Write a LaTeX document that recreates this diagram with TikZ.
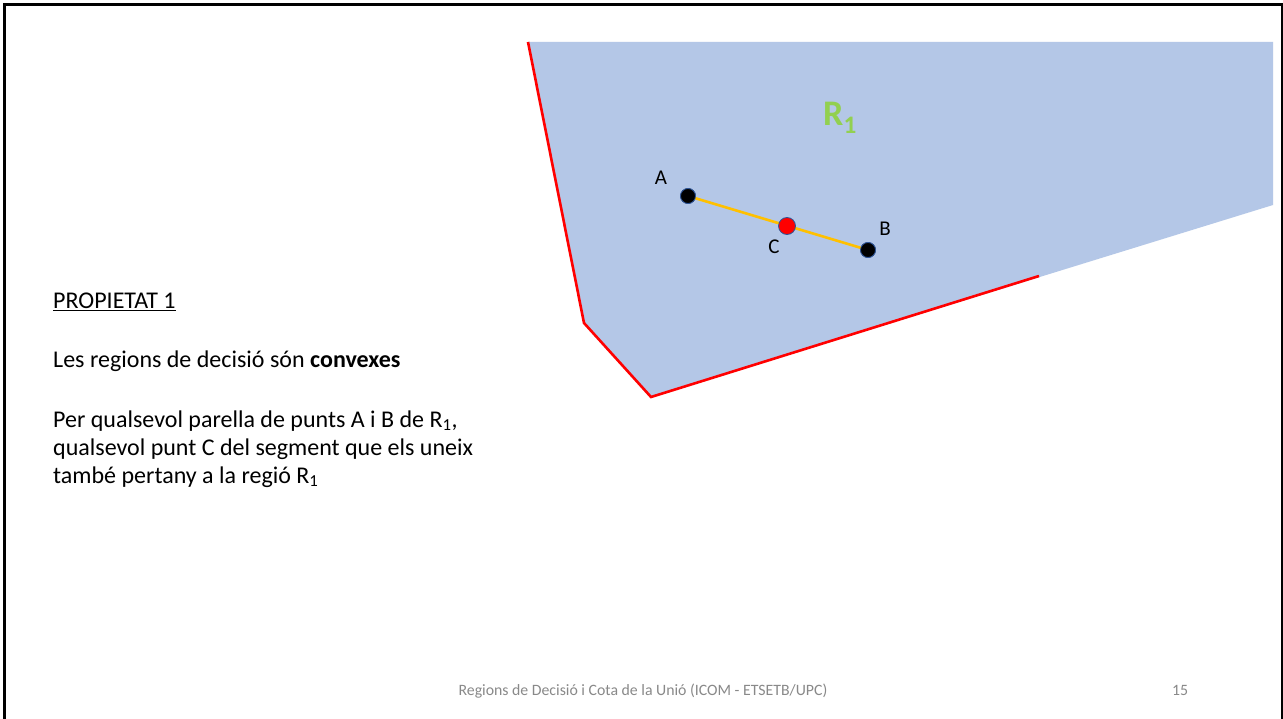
\documentclass[tikz,border=0pt]{standalone}
\usepackage{fontspec}
\setmainfont{Carlito}
\definecolor{regionfill}{HTML}{B4C7E7}
\definecolor{boundred}{HTML}{FF0000}
\definecolor{segorange}{HTML}{FFC000}
\definecolor{rgreen}{HTML}{92D050}
\definecolor{footgray}{HTML}{898989}
\definecolor{dotedge}{HTML}{2F5597}
\tikzset{
  boundary/.style={draw=boundred, line width=2.6pt, line join=miter},
  pointdot/.style={circle, fill=black, draw=dotedge, line width=0.8pt, minimum size=15pt, inner sep=0pt},
  reddot/.style={circle, fill=boundred, draw=dotedge, line width=0.8pt, minimum size=17pt, inner sep=0pt},
  ptlabel/.style={font=\fontsize{21}{24}\selectfont, inner sep=0pt},
  bodytext/.style={font=\fontsize{24}{28}\selectfont, anchor=base west, inner sep=0pt},
  foot/.style={font=\fontsize{15.8}{18}\selectfont, text=footgray, anchor=base, inner sep=0pt}
}
\begin{document}
\begin{tikzpicture}[x=1pt,y=-1pt]
\useasboundingbox (0,0) rectangle (1283,719);
\fill[white] (0,0) rectangle (1283,719);
% frame
\draw[black, line width=3pt] (4.5,719) -- (4.5,4.5) -- (1283,4.5);
\draw[black, line width=1.5pt] (1282,4.5) -- (1282,719);
% region
\coordinate (tl) at (528,42);
\coordinate (tr) at (1273,42);
\coordinate (rr) at (1273,205);
\coordinate (be) at (1039,276);
\coordinate (bc) at (651,397);
\coordinate (lc) at (584,323);
\fill[regionfill] (tl) -- (tr) -- (rr) -- (bc) -- (lc) -- cycle;
\draw[boundary] (be) -- (bc) -- (lc) -- (tl);
% R1
\node[text=rgreen, font=\bfseries\fontsize{36}{40}\selectfont, inner sep=0pt] (r1) at (840,118) {R\textsubscript{1}};
% segment and points
\node[pointdot] (a) at (688,196) {};
\node[pointdot] (b) at (868,250) {};
\draw[segorange, line width=2.6pt] (a.center) -- (b.center);
\node[reddot] (c) at (787,226) {};
\node[pointdot] at (688,196) {};
\node[pointdot] at (868,250) {};
\node[ptlabel] (la) at (661,178) {A};
\node[ptlabel] (lb) at (885,229) {B};
\node[ptlabel] (lc2) at (774,247) {C};
% text
\node[bodytext] (t1) at (53,309) {\underline{PROPIETAT 1}};
\node[bodytext] (t2) at (53,367) {Les regions de decisió són \textbf{convexes}};
\node[bodytext] (t3) at (53,427) {Per qualsevol parella de punts A i B de R\textsubscript{1},};
\node[bodytext] (t4) at (53,455) {qualsevol punt C del segment que els uneix};
\node[bodytext] (t5) at (53,483) {també pertany a la regió R\textsubscript{1}};
% footer
\node[foot] (f1) at (643,695) {Regions de Decisió i Cota de la Unió (ICOM - ETSETB/UPC)};
\node[foot] (f2) at (1180,695) {15};
\end{tikzpicture}
\end{document}
